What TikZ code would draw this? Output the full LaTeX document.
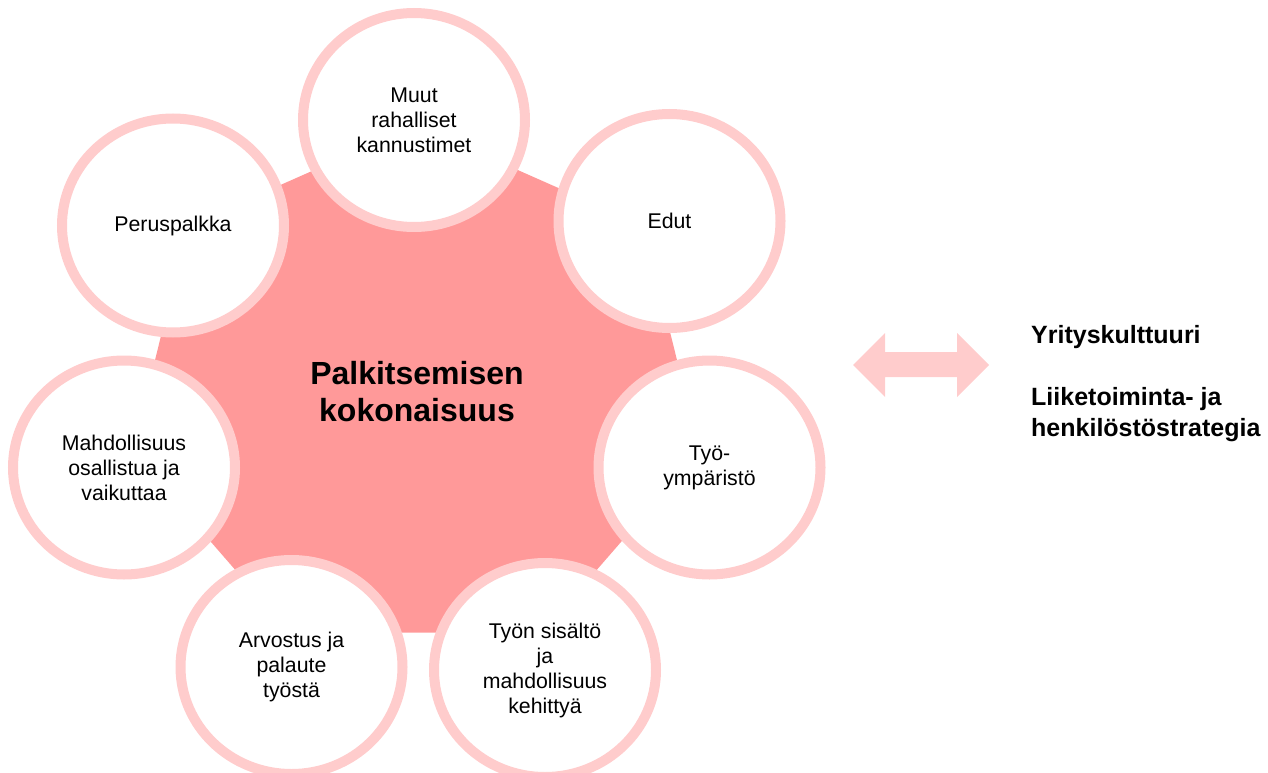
\documentclass[tikz,border=0pt]{standalone}
\usepackage{fontspec}
\setmainfont{Liberation Sans}
\usetikzlibrary{shapes.geometric}
\definecolor{hept}{HTML}{FF9999}
\definecolor{ring}{HTML}{FFCCCC}
\begin{document}
\begin{tikzpicture}[x=1pt,y=-1pt,
  bubble/.style={ellipse, draw=ring, line width=10pt, fill=white,
    minimum width=222pt, minimum height=214pt, inner sep=0pt,
    align=center, font=\fontsize{21.3}{25}\selectfont, text=black},
  centertext/.style={inner sep=0pt, align=center,
    font=\fontsize{32}{37}\selectfont\bfseries, text=black},
  sidetext/.style={anchor=north west, inner sep=0pt, align=left,
    font=\fontsize{25}{31}\selectfont\bfseries, text=black}
]
\useasboundingbox (0,0) rectangle (1268,773);
% central heptagon
\fill[hept] (416,125) -- (643.6,225.7) -- (699.7,451.4) -- (542.3,632.6)
  -- (289.7,632.6) -- (132.3,451.4) -- (188.4,225.7) -- cycle;
% surrounding bubbles
\node[bubble] (muut) at (414,120) {Muut\\rahalliset\\kannustimet};
\node[bubble] (edut) at (669.5,221) {Edut};
\node[bubble] (ymp) at (709.5,467.5) {Työ-\\ympäristö};
\node[bubble] (sisalto) at (545,670) {Työn sisältö\\ja\\mahdollisuus\\kehittyä};
\node[bubble] (arvostus) at (291.5,667) {Arvostus ja\\palaute\\työstä};
\node[bubble] (mahd) at (124,467.5) {Mahdollisuus\\osallistua ja\\vaikuttaa};
\node[bubble] (perus) at (173,225.5) {Peruspalkka};
% centre title
\node[centertext] (title) at (417,392) {Palkitsemisen\\kokonaisuus};
% double arrow
\fill[ring] (853,365) -- (885,333) -- (885,352) -- (957,352) -- (957,333)
  -- (989,365) -- (957,397) -- (957,377) -- (885,377) -- (885,397) -- cycle;
% right text
\node[sidetext] (ctx) at (1031,325) {Yrityskulttuuri\\[31pt]Liiketoiminta- ja\\henkilöstöstrategia};
\end{tikzpicture}
\end{document}
